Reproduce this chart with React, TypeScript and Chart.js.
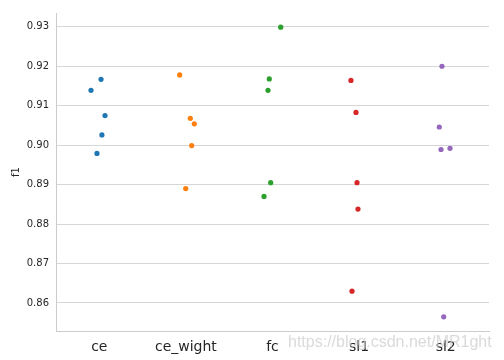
import React, { useEffect, useRef } from "react";
import { Chart, registerables } from "chart.js";

Chart.register(...registerables);

const categories = ["ce", "ce_wight", "fc", "sl1", "sl2"];
const colors = ["#1f77b4", "#ff7f0e", "#2ca02c", "#d62728", "#9467bd"];

const ceValues = [0.9167, 0.9139, 0.9075, 0.9026, 0.8979];
const ceWightValues = [0.9178, 0.9068, 0.9054, 0.8999, 0.889];
const fcValues = [0.9299, 0.9168, 0.9139, 0.8905, 0.887];
const sl1Values = [0.9164, 0.9083, 0.8905, 0.8838, 0.863];
const sl2Values = [0.92, 0.9046, 0.8989, 0.8992, 0.8565];

const ceJitter = [0.02, -0.096, 0.066, 0.03, -0.027];
const ceWightJitter = [-0.072, 0.051, 0.097, 0.067, -0.002];
const fcJitter = [0.095, -0.037, -0.052, -0.021, -0.098];
const sl1Jitter = [-0.094, -0.036, -0.024, -0.013, -0.082];
const sl2Jitter = [-0.043, -0.074, -0.054, 0.05, -0.023];

const yTicks = [0.86, 0.87, 0.88, 0.89, 0.9, 0.91, 0.92, 0.93];
const yMin = 0.8529;
const yMax = 0.9335;

const allValues = [ceValues, ceWightValues, fcValues, sl1Values, sl2Values];
const allJitter = [ceJitter, ceWightJitter, fcJitter, sl1Jitter, sl2Jitter];

export default function App() {
  const ref = useRef<HTMLCanvasElement>(null);
  useEffect(() => {
    const datasets = categories.map((c, i) => ({
      label: c,
      data: allValues[i].map((v, j) => ({ x: i + allJitter[i][j], y: v })),
      backgroundColor: colors[i],
      borderWidth: 0,
      pointRadius: 2.6,
    }));
    const chart = new Chart(ref.current!, {
      type: "scatter",
      data: { datasets },
      options: {
        animation: false,
        responsive: false,
        layout: { padding: { left: 0, right: 15, top: 11, bottom: 0 } },
        plugins: { legend: { display: false }, tooltip: { enabled: false } },
        scales: {
          x: {
            type: "linear",
            min: -0.5,
            max: 4.5,
            afterBuildTicks: (s: any) => {
              s.ticks = categories.map((_, i) => ({ value: i }));
            },
            afterFit: (s: any) => {
              s.height = 29;
            },
            grid: { display: false },
            border: { display: true, color: "#cccccc", width: 1 },
            ticks: {
              color: "#262626",
              font: { family: "DejaVu Sans", size: 14 },
              padding: 0,
              callback: (v: any) => categories[Math.round(Number(v))],
              maxRotation: 0,
              autoSkip: false,
            },
          },
          y: {
            type: "linear",
            min: yMin,
            max: yMax,
            afterBuildTicks: (s: any) => {
              s.ticks = yTicks.map((v) => ({ value: v }));
            },
            afterFit: (s: any) => {
              s.width = 56;
            },
            grid: { color: "#d6d6d6", lineWidth: 1, drawTicks: false },
            border: { display: true, color: "#cccccc", width: 1 },
            title: {
              display: true,
              text: "f1",
              color: "#262626",
              font: { family: "DejaVu Sans", size: 10 },
              padding: { top: 10, bottom: 0 },
            },
            ticks: {
              color: "#262626",
              font: { family: "DejaVu Sans", size: 10 },
              padding: 7,
              callback: (v: any) => Number(v).toFixed(2),
            },
          },
        },
      },
    });
    return () => chart.destroy();
  }, []);
  return (
    <div style={{ position: "fixed", left: 0, top: 0, width: 504, height: 360, background: "#fff" }}>
      <canvas ref={ref} width={504} height={360} style={{ display: "block" }} />
      <div
        style={{
          position: "absolute",
          left: 288,
          top: 333,
          fontFamily: "Liberation Sans",
          fontSize: 16,
          color: "rgba(205,205,205,0.75)",
          whiteSpace: "nowrap",
        }}
      >
        https://blog.csdn.net/MR1ght
      </div>
    </div>
  );
}
